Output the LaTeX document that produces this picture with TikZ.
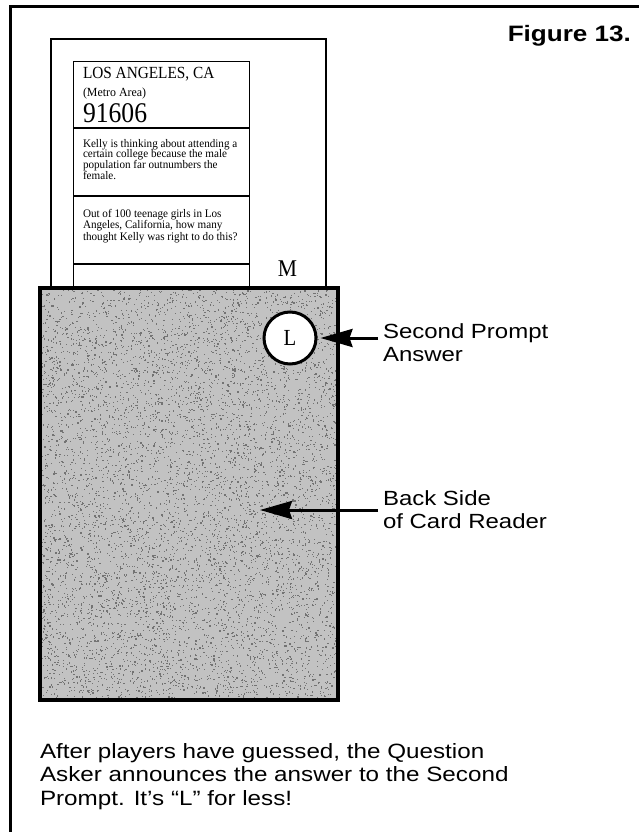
\documentclass[tikz,border=0pt]{standalone}
\usepackage{fontspec}
\setmainfont{Liberation Serif}
\newfontfamily\sansf[FakeStretch=1.17]{Liberation Sans}
\newfontfamily\cardf[FakeStretch=0.96]{Liberation Serif}
\newfontfamily\cardn[FakeStretch=0.9]{Liberation Serif}
\usetikzlibrary{arrows.meta}
\tikzset{
  frameline/.style={line width=3pt},
  readerbox/.style={draw, line width=2.5pt, fill=white},
  cardline/.style={line width=0.9pt},
  cardrule/.style={line width=1.7pt},
  backfill/.style={fill=black!24},
  backedge/.style={draw, line width=3.5pt},
  speck/.style={fill=black!55},
  bigarrow/.style={line width=3pt, -{Stealth[length=32pt,width=18pt,inset=3pt]}},
  plain/.style={inner sep=0pt, outer sep=0pt, anchor=base west},
}
\begin{document}
\begin{tikzpicture}[x=1pt,y=-1pt]
\useasboundingbox (0,0) rectangle (639,832);
% outer frame (only top and left visible)
\draw[frameline] (639,7) -- (10,7) -- (10,832);
% card reader (front, white)
\draw[readerbox] (51,39) rectangle (326,292);
% card
\draw[cardline] (73,300) -- (73,61) -- (249,61) -- (249,300);
\draw[cardrule] (73,128) -- (249,128);
\draw[cardrule] (73,196) -- (249,196);
\draw[cardrule] (73,264) -- (249,264);
\node[plain] (city) at (83,79) {\cardn\fontsize{17}{18}\selectfont LOS ANGELES, CA};
\node[plain] (metro) at (83,97) {\cardf\fontsize{12.4}{14}\selectfont (Metro Area)};
\node[plain] (zip) at (83,122) {\cardn\fontsize{28.5}{30}\selectfont 91606};
\node[plain] (kelly) at (83,147) {\parbox[t]{170pt}{\raggedright\cardf\fontsize{11.6}{10.8}\selectfont
  Kelly is thinking about attending a\\certain college because the male\\population far outnumbers the\\female.}};
\node[plain] (quest) at (83,217) {\parbox[t]{170pt}{\raggedright\cardf\fontsize{11.6}{10.5}\selectfont
  Out of 100 teenage girls in Los\\Angeles, California, how many\\thought Kelly was right to do this?}};
\node[plain, anchor=base] (M) at (287.5,276) {\cardn\fontsize{24}{26}\selectfont M};
% back side of the card reader (grey, stippled)
\fill[backfill] (40,288) rectangle (338,700);
\begin{scope}
  \clip (40,288) rectangle (338,700);
  \pgfmathsetseed{13}
  \foreach \k in {1,...,7000} {
    \fill[speck] (40+298*rnd, 288+412*rnd) rectangle ++(1.2,1.2);
  }
\end{scope}
\draw[backedge] (40,288) rectangle (338,700);
\coordinate (backpt) at (260,510);
\node[circle, draw, line width=3pt, fill=white, minimum size=52pt, inner sep=0pt] (Lc) at (290,338)
  {\cardn\fontsize{23}{24}\selectfont L};
% labels
\node[plain] (lab1) at (383,338) {\parbox[t]{220pt}{\raggedright\sansf\fontsize{20.5}{23}\selectfont Second Prompt\\Answer}};
\node[plain] (lab2) at (383,505) {\parbox[t]{220pt}{\raggedright\sansf\fontsize{20.5}{23}\selectfont Back Side\\of Card Reader}};
\draw[bigarrow] ([xshift=-5pt]lab1.base west) -- ([xshift=3pt]Lc.east);
\draw[bigarrow] ([xshift=-5pt,yshift=-5pt]lab2.base west) -- (backpt);
% title
\node[plain, anchor=base east] (title) at (631,42) {\sansf\bfseries\fontsize{22.3}{24}\selectfont Figure 13.};
% caption
\node[plain] (caption) at (40,758) {\parbox[t]{560pt}{\raggedright\sansf\fontsize{20.7}{23.8}\selectfont
  After players have guessed, the Question\\Asker announces the answer to the Second\\Prompt. It’s “L” for less!}};
\end{tikzpicture}
\end{document}
